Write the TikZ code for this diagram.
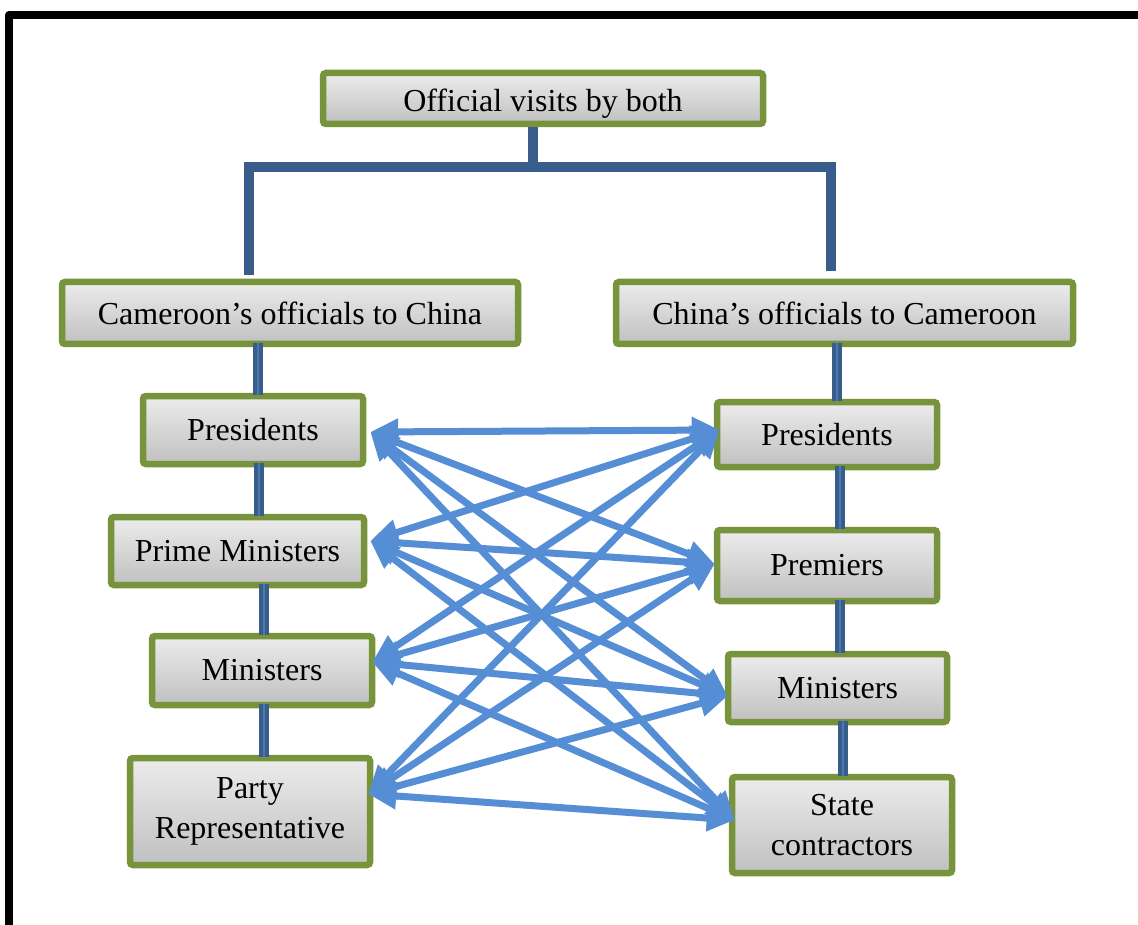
\documentclass[tikz,border=0pt]{standalone}
\usepackage{fontspec}
\setmainfont{Liberation Serif}
\usetikzlibrary{arrows.meta}
\definecolor{boxgreen}{RGB}{119,147,60}
\definecolor{boxtop}{RGB}{236,236,236}
\definecolor{boxbot}{RGB}{192,192,192}
\definecolor{trunkblue}{RGB}{56,93,138}
\definecolor{trunklight}{RGB}{76,120,176}
\definecolor{linkblue}{RGB}{85,142,213}
\begin{document}
\begin{tikzpicture}[x=1pt,y=-1pt,
  office/.style={draw=boxgreen, line width=6.5pt, rounded corners=3pt,
    top color=boxtop, bottom color=boxbot, inner sep=0pt, align=center,
    text=black, font=\fontsize{32}{40}\selectfont},
  trunk/.style={draw=trunkblue, line width=10pt},
  stem/.style={draw=trunkblue, line width=4.5pt, double=trunklight,
    double distance=1.5pt, shorten <=-4pt, shorten >=-2pt},
  link/.style={draw=linkblue, line width=7pt,
    >={Triangle[length=28pt,width=25pt]}, <->}]
\useasboundingbox (0,0) rectangle (1138,925);
\fill[white] (0,0) rectangle (1138,925);

% outer frame
\draw[line width=8pt, line join=round] (9,925) -- (9,15) -- (1138,15);

% boxes
\node[office, minimum width=440pt, minimum height=51pt, text height=26pt, text depth=0pt] (top) at (543,98.5) {Official visits by both};
\node[office, minimum width=456pt, minimum height=62pt] (cam) at (290,313) {Cameroon’s officials to China};
\node[office, minimum width=457pt, minimum height=62pt] (chn) at (844.5,313) {China’s officials to Cameroon};

\node[office, minimum width=220pt, minimum height=68pt] (lp) at (253,430) {Presidents};
\node[office, minimum width=253pt, minimum height=68pt] (lpm) at (237.5,551) {Prime Ministers};
\node[office, minimum width=220pt, minimum height=69pt] (lm) at (262,670.5) {Ministers};
\node[office, minimum width=240pt, minimum height=107pt] (lpr) at (250,811.5) {Party\\Representative};

\node[office, minimum width=220pt, minimum height=65pt] (rp) at (827,434.5) {Presidents};
\node[office, minimum width=220pt, minimum height=71pt] (rpm) at (827,565.5) {Premiers};
\node[office, minimum width=219pt, minimum height=68pt] (rm) at (837.5,688) {Ministers};
\node[office, minimum width=220pt, minimum height=96pt] (rs) at (842,825) {State\\contractors};

% tree from the top box to both sides
\coordinate (bar) at (0,167);
\path (top.south) ++(-10,0) coordinate (t0);
\path (cam.north) ++(-41,-4) coordinate (c0);
\path (chn.north) ++(-13.5,-8) coordinate (h0);
\draw[trunk] (t0) -- (t0 |- bar);
\draw[trunk] (c0) -- (c0 |- bar) -- (h0 |- bar) -- (h0);

% stems down each column
\path (lp.north) ++(5,0) coordinate (sa);
\path (lpm.north) ++(21.5,0) coordinate (sb);
\path (lm.north) ++(2,0) coordinate (sc);
\path (lpr.north) ++(14,0) coordinate (sd);
\draw[stem] (sa |- cam.south) -- (sa);
\draw[stem] (sb |- lp.south) -- (sb);
\draw[stem] (sc |- lpm.south) -- (sc);
\draw[stem] (sd |- lm.south) -- (sd);

\path (rp.north) ++(10,0) coordinate (ta);
\path (rpm.north) ++(13,0) coordinate (tb);
\path (rm.north) ++(2.5,0) coordinate (tc);
\path (rs.north) ++(1,0) coordinate (td);
\draw[stem] (ta |- chn.south) -- (ta);
\draw[stem] (tb |- rp.south) -- (tb);
\draw[stem] (tc |- rpm.south) -- (tc);
\draw[stem] (td |- rm.south) -- (td);

% visits in both directions
\path (lp.east) ++(4,2) coordinate (L1);
\path (lpm.east) ++(3,-10) coordinate (L2);
\path (lm.east) ++(-3,-8.5) coordinate (L3);
\path (lpr.east) ++(-5,-17.5) coordinate (L4);
\path (rp.west) ++(6,-4.5) coordinate (R1);
\path (rpm.west) ++(1,-1.5) coordinate (R2);
\path (rm.west) ++(3,8) coordinate (R3);
\path (rs.west) ++(6,-5) coordinate (R4);
\foreach \i in {1,...,4}
  \foreach \j in {1,...,4}
    \draw[link] (L\i) -- (R\j);
\end{tikzpicture}
\end{document}
